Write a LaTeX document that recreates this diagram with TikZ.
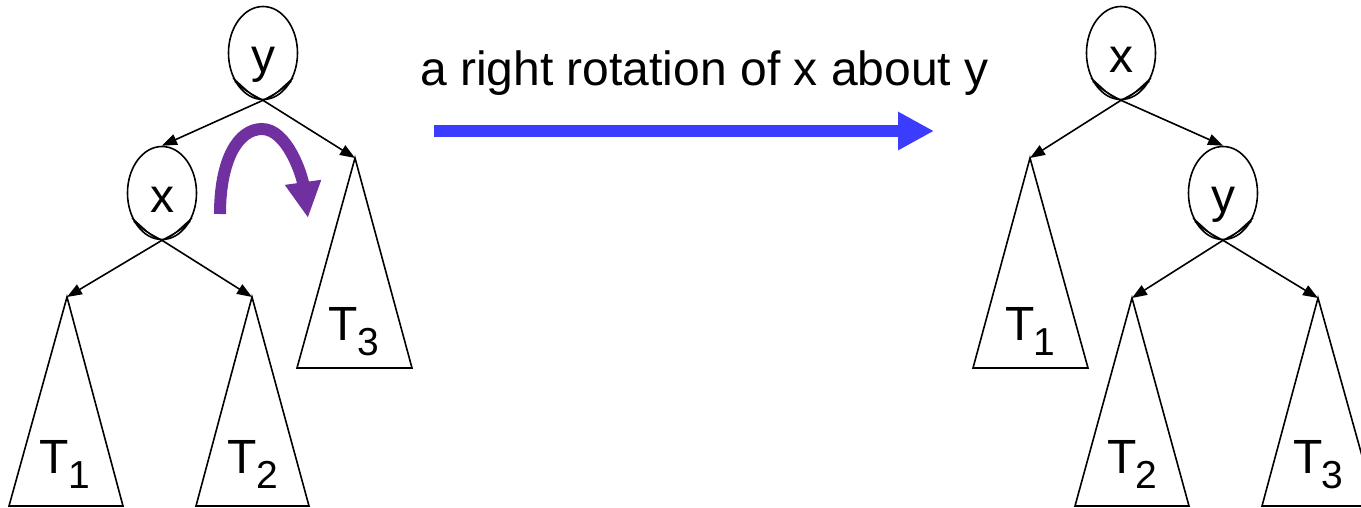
\documentclass[tikz,border=0pt]{standalone}
\usepackage{fontspec}
\setmainfont{Liberation Sans}
\usetikzlibrary{shapes.geometric,arrows.meta}
\definecolor{rotblue}{RGB}{60,60,255}
\definecolor{rotpurple}{RGB}{112,48,160}
\newcommand{\Tsub}[1]{T\kern-1pt\raisebox{-15pt}{\fontsize{39pt}{40pt}\selectfont #1}}
\tikzset{
  keynode/.style={ellipse,draw,line width=1.6pt,minimum width=69pt,minimum height=93pt,
    inner sep=0pt,text height=38pt,text depth=0pt,font=\fontsize{48pt}{56pt}\selectfont},
  edge/.style={line width=1.6pt,-{Triangle[length=15pt,width=11pt]}},
  subtree/.style={line width=1.6pt,line join=miter},
  tlabel/.style={anchor=base,inner sep=0pt,font=\fontsize{48pt}{56pt}\selectfont},
  pinch/.style={line width=1.4pt}
}
\begin{document}
\begin{tikzpicture}[x=1pt,y=-1pt]
\useasboundingbox (0,0) rectangle (1361,507);
% ---------- left tree ----------
\node[keynode] (ly) at (263,53) {y};
\node[keynode] (lx) at (162,193) {x};
\coordinate (lA3) at (355,158);
\coordinate (lA1) at (67,297);
\coordinate (lA2) at (252,297);
\draw[subtree] (lA3) -- (297,368) -- (412,368) -- cycle;
\draw[subtree] (lA1) -- (9,506) -- (123,506) -- cycle;
\draw[subtree] (lA2) -- (196,506) -- (309,506) -- cycle;
\draw[edge] (ly.south) -- (lx.north);
\draw[edge] (ly.south) -- (lA3);
\draw[edge] (lx.south) -- (lA1);
\draw[edge] (lx.south) -- (lA2);
\draw[pinch] (ly.-135) .. controls +(10,9) .. (ly.south) .. controls +(10,-4) .. (ly.-40);
\draw[pinch] (ly.-45) .. controls +(-10,9) .. (ly.south) .. controls +(-10,-4) .. (ly.-140);
\draw[pinch] (lx.-135) .. controls +(10,9) .. (lx.south) .. controls +(10,-4) .. (lx.-40);
\draw[pinch] (lx.-45) .. controls +(-10,9) .. (lx.south) .. controls +(-10,-4) .. (lx.-140);
\node[tlabel] (lT1) at (65,473) {\Tsub{1}};
\node[tlabel] (lT2) at (253,473) {\Tsub{2}};
\node[tlabel] (lT3) at (354,340) {\Tsub{3}};
% rotation arrow
\coordinate (rotS) at (220,214);
\coordinate (rotT) at (262,129);
\coordinate (rotE) at (308,218);
\draw[rotpurple,line width=12pt,-{Triangle[length=36pt,width=34pt]}]
  (rotS) .. controls (220,160) and (238,129) .. (rotT) .. controls (287,129) and (302,175) .. (rotE);
% ---------- middle ----------
\node[anchor=base west,inner sep=0pt,font=\fontsize{48pt}{56pt}\selectfont] (title) at (420,85) {a right rotation of x about y};
\coordinate (bS) at (434,131);
\coordinate (bE) at (934,131);
\draw[rotblue,line width=12pt,-{Triangle[length=36pt,width=36pt]}] (bS) -- (bE);
% ---------- right tree ----------
\node[keynode] (rx) at (1121,53) {x};
\node[keynode] (ry) at (1223,193) {y};
\coordinate (rA1) at (1030,158);
\coordinate (rA2) at (1132,298);
\coordinate (rA3) at (1318,298);
\draw[subtree] (rA1) -- (973,368) -- (1088,368) -- cycle;
\draw[subtree] (rA2) -- (1075,506) -- (1189,506) -- cycle;
\draw[subtree] (rA3) -- (1262,506) -- (1376,506) -- cycle;
\draw[edge] (rx.south) -- (rA1);
\draw[edge] (rx.south) -- (ry.north);
\draw[edge] (ry.south) -- (rA2);
\draw[edge] (ry.south) -- (rA3);
\draw[pinch] (rx.-135) .. controls +(10,9) .. (rx.south) .. controls +(10,-4) .. (rx.-40);
\draw[pinch] (rx.-45) .. controls +(-10,9) .. (rx.south) .. controls +(-10,-4) .. (rx.-140);
\draw[pinch] (ry.-135) .. controls +(10,9) .. (ry.south) .. controls +(10,-4) .. (ry.-40);
\draw[pinch] (ry.-45) .. controls +(-10,9) .. (ry.south) .. controls +(-10,-4) .. (ry.-140);
\node[tlabel] (rT1) at (1030,340) {\Tsub{1}};
\node[tlabel] (rT2) at (1132,473) {\Tsub{2}};
\node[tlabel] (rT3) at (1318,473) {\Tsub{3}};
\end{tikzpicture}
\end{document}
